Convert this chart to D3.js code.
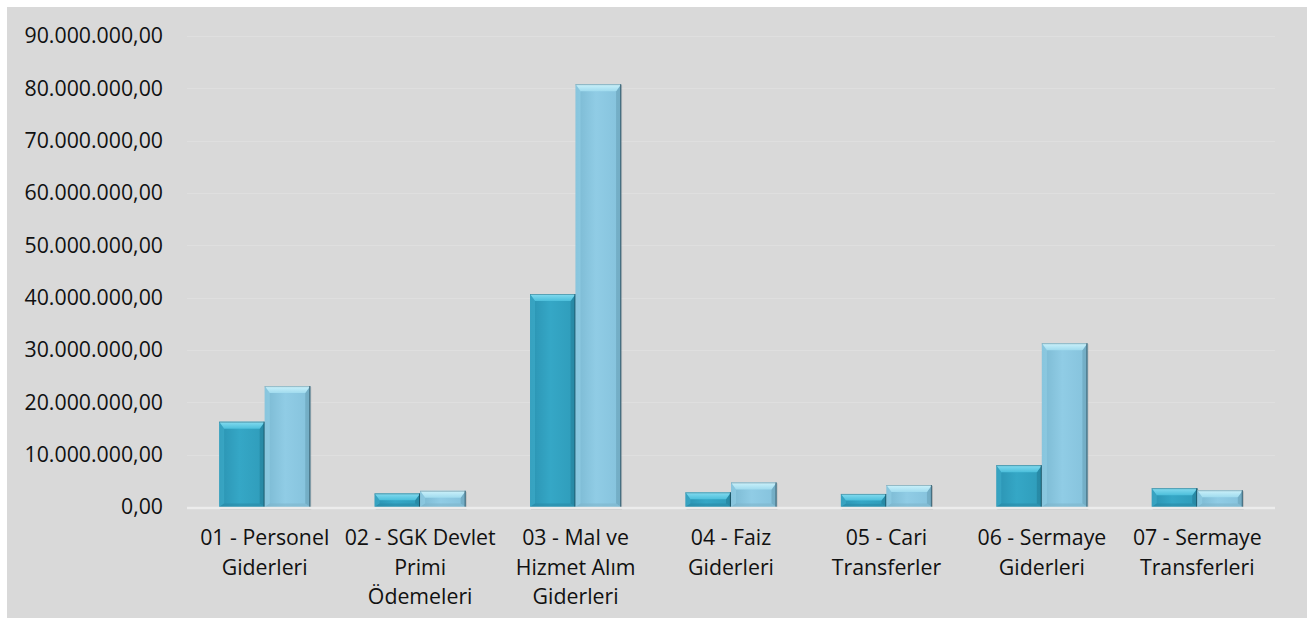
<!DOCTYPE html>
<html>
<head>
<meta charset="utf-8">
<script src="https://cdn.jsdelivr.net/npm/d3@7"></script>
<style>
  html, body { margin: 0; padding: 0; background: #ffffff; }
  svg { display: block; }
  text { font-family: "Open Sans", "Noto Sans", sans-serif; fill: #111; }
</style>
</head>
<body>
<svg id="chart" width="1307" height="619"></svg>
<script>
// ---- data ----
const categories = [
  "01 - Personel Giderleri",
  "02 - SGK Devlet Primi Ödemeleri",
  "03 - Mal ve Hizmet Alım Giderleri",
  "04 - Faiz Giderleri",
  "05 - Cari Transferler",
  "06 - Sermaye Giderleri",
  "07 - Sermaye Transferleri"
];
const seriesNames = ["Seri 1", "Seri 2"];
const series1 = [16300000, 2600000, 40700000, 2800000, 2500000, 8000000, 3600000];
const series2 = [23100000, 3100000, 80800000, 4700000, 4200000, 31300000, 3200000];
const yTicks = [0, 10000000, 20000000, 30000000, 40000000, 50000000, 60000000, 70000000, 80000000, 90000000];

// ---- layout ----
const W = 1307, H = 619;
const plot = { left: 187, right: 1275, top: 36, bottom: 507 };
const svg = d3.select("#chart");

const defs = svg.append("defs");

svg.append("rect").attr("x", 7).attr("y", 7).attr("width", W - 7).attr("height", H - 8)
  .attr("fill", "#d9d9d9");

const x = d3.scaleBand().domain(categories).range([plot.left, plot.right]).paddingInner(0.414).paddingOuter(0.207);
const xs = d3.scaleBand().domain(seriesNames).range([0, x.bandwidth()]);
const y = d3.scaleLinear().domain([0, 90000000]).range([plot.bottom, plot.top]);

const trLocale = d3.formatLocale({ decimal: ",", thousands: ".", grouping: [3], currency: ["", " TL"] });
const fmt = trLocale.format(",.2f");

// gridlines
svg.append("g").selectAll("line").data(yTicks.filter(d => d > 0)).join("line")
  .attr("x1", plot.left).attr("x2", plot.right)
  .attr("y1", d => Math.round(y(d)) + 0.5).attr("y2", d => Math.round(y(d)) + 0.5)
  .attr("stroke", "#dfdfdf").attr("stroke-width", 1);

// y axis
const yAxis = d3.axisLeft(y).tickValues(yTicks).tickFormat(fmt).tickSize(0).tickPadding(0);
const gy = svg.append("g").attr("transform", `translate(163,0)`).call(yAxis);
gy.select(".domain").remove();
gy.selectAll("text").attr("font-size", 21.3).attr("fill", "#111")
  .style("font-family", '"Open Sans", sans-serif');

// gradients
const palettes = [
  { face: ["#2b93b2", "#35a7c6", "#2f9cba"], top: ["#86dcf0", "#4cbfdb"], left: "#44b3d0", right: "#1f7792", bottom: "#2a8aa6", edge: "#1b4f60" },
  { face: ["#7bb9d2", "#90cce5", "#85c2dc"], top: ["#cdf2fb", "#a0dbee"], left: "#9ad4ea", right: "#6199b0", bottom: "#7fb5cc", edge: "#3f6575" }
];
palettes.forEach((p, i) => {
  const gf = defs.append("linearGradient").attr("id", "face" + i).attr("x1", 0).attr("x2", 1).attr("y1", 0).attr("y2", 0);
  gf.append("stop").attr("offset", "0%").attr("stop-color", p.face[0]);
  gf.append("stop").attr("offset", "45%").attr("stop-color", p.face[1]);
  gf.append("stop").attr("offset", "100%").attr("stop-color", p.face[2]);
  const gt = defs.append("linearGradient").attr("id", "top" + i).attr("x1", 0).attr("x2", 0).attr("y1", 0).attr("y2", 1);
  gt.append("stop").attr("offset", "0%").attr("stop-color", p.top[0]);
  gt.append("stop").attr("offset", "100%").attr("stop-color", p.top[1]);
});

// bars
const bars = [];
categories.forEach((c, ci) => {
  [series1, series2].forEach((s, si) => {
    bars.push({ cat: c, si, value: s[ci] });
  });
});

const gBars = svg.append("g");
// baseline
svg.append("line").attr("x1", plot.left).attr("x2", plot.right)
  .attr("y1", plot.bottom + 1).attr("y2", plot.bottom + 1)
  .attr("stroke", "#ececec").attr("stroke-width", 2.5);

bars.forEach(b => {
  const bx = x(b.cat) + xs(seriesNames[b.si]);
  const bw = xs.bandwidth();
  const by = y(b.value);
  const bh = y(0) - by;
  const p = palettes[b.si];
  const bv = Math.min(7, bh / 2, bw / 2);
  const g = gBars.append("g");
  // shadow
  g.append("rect").attr("x", bx + 1).attr("y", by + 1).attr("width", bw).attr("height", bh + 1.5)
    .attr("fill", "#000").attr("opacity", 0.15);
  g.append("rect").attr("x", bx).attr("y", by).attr("width", bw).attr("height", bh)
    .attr("fill", `url(#face${b.si})`);
  const pts = a => a.map(q => q.join(",")).join(" ");
  const x0 = bx, x1 = bx + bw, y0 = by, y1 = by + bh;
  const sb = Math.min(5, bw / 2);
  // left bevel
  g.append("polygon").attr("points", pts([[x0, y0], [x0 + sb, y0 + bv], [x0 + sb, y1 - bv * 0.5], [x0, y1]]))
    .attr("fill", p.left).attr("opacity", 0.45);
  // right bevel
  g.append("polygon").attr("points", pts([[x1, y0], [x1, y1], [x1 - sb, y1 - bv * 0.5], [x1 - sb, y0 + bv]]))
    .attr("fill", p.right).attr("opacity", 0.5);
  // bottom bevel
  g.append("polygon").attr("points", pts([[x0, y1], [x0 + sb, y1 - bv * 0.5], [x1 - sb, y1 - bv * 0.5], [x1, y1]]))
    .attr("fill", p.bottom).attr("opacity", 0.6);
  // top bevel
  g.append("polygon").attr("points", pts([[x0, y0], [x1, y0], [x1 - sb, y0 + bv], [x0 + sb, y0 + bv]]))
    .attr("fill", `url(#top${b.si})`);
  // right dark edge
  g.append("line").attr("x1", x1 - 0.5).attr("x2", x1 - 0.5).attr("y1", y0).attr("y2", y1)
    .attr("stroke", p.edge).attr("stroke-width", 1.2).attr("opacity", 0.85);
  g.append("line").attr("x1", x0).attr("x2", x1).attr("y1", y0 + 0.5).attr("y2", y0 + 0.5)
    .attr("stroke", p.edge).attr("stroke-width", 0.8).attr("opacity", 0.5);
});

// x axis labels (wrapped)
const xAxis = d3.axisBottom(x).tickSize(0).tickPadding(0);
const gx = svg.append("g").attr("transform", `translate(0,${plot.bottom})`).call(xAxis);
gx.select(".domain").remove();
const maxW = x.step() - 2;
gx.selectAll(".tick text").each(function (d) {
  const t = d3.select(this);
  t.text(null).attr("font-size", 21.3).attr("fill", "#111").attr("y", 0).attr("dy", null)
    .style("font-family", '"Open Sans", sans-serif');
  const words = d.split(" ");
  const lines = [];
  let cur = "";
  const tmp = t.append("tspan");
  words.forEach(wd => {
    const test = cur ? cur + " " + wd : wd;
    tmp.text(test);
    if (tmp.node().getComputedTextLength() > maxW && cur) {
      lines.push(cur); cur = wd;
    } else cur = test;
  });
  lines.push(cur);
  tmp.remove();
  lines.forEach((ln, i) => {
    t.append("tspan").attr("x", 0).attr("y", 38 + i * 29.5).text(ln);
  });
});
</script>
</body>
</html>
